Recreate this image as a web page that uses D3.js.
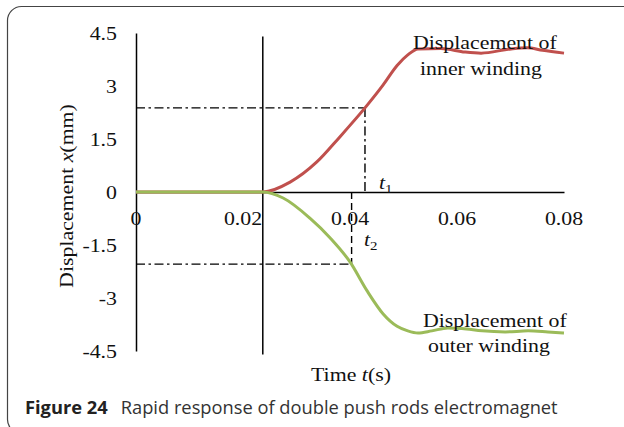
<!DOCTYPE html>
<html>
<head>
<meta charset="utf-8">
<script src="https://cdn.jsdelivr.net/npm/d3@7"></script>
<style>
  html, body { margin: 0; padding: 0; background: #fff; }
  svg { display: block; }
  .serif { font-family: "Liberation Serif", "Times New Roman", serif; fill: #111; }
</style>
</head>
<body>
<svg id="chart" width="624" height="427"></svg>
<script>
// Time axis (s) and displacement axis (mm)
const timeTicks = [0, 0.02, 0.04, 0.06, 0.08];
const timeTickLabels = ["0", "0.02", "0.04", "0.06", "0.08"];
const dispTicks = [4.5, 3, 1.5, 0, -1.5, -3, -4.5];
const dispTickLabels = ["4.5", "3", "1.5", "0", "-1.5", "-3", "-4.5"];

// Inner winding displacement
const innerTime = [0, 0.0237, 0.0288, 0.0338, 0.0381, 0.0428, 0.0462, 0.0488, 0.0508, 0.0527,
                   0.0570, 0.0615, 0.0645, 0.0701, 0.0731, 0.0760, 0.0800];
const innerDisp = [0, 0, 0.28, 0.85, 1.56, 2.38, 3.03, 3.58, 3.88, 4.05,
                   4.06, 3.96, 3.93, 4.05, 4.08, 4.01, 3.93];

// Outer winding displacement
const outerTime = [0, 0.0237, 0.0275, 0.0325, 0.0363, 0.0400, 0.0432, 0.0462, 0.0488, 0.0508,
                   0.0527, 0.0553, 0.0583, 0.0609, 0.0647, 0.0690, 0.0733, 0.0770, 0.0800];
const outerDisp = [0, 0, -0.17, -0.74, -1.30, -1.98, -2.80, -3.45, -3.80, -3.93,
                   -3.99, -3.93, -3.85, -3.86, -3.93, -3.96, -3.93, -3.96, -3.99];

// Start of motion and the two response-time markers
const startTime = 0.0237, startTop = 4.4, startBottom = -4.6;
const t1Time = 0.0428, t1Disp = 2.38;
const t2Time = 0.0403, t2Disp = -2.04;

const svg = d3.select("#chart");

// figure frame
svg.append("rect")
  .attr("x", 7.5).attr("y", 6.5).attr("width", 650).attr("height", 427)
  .attr("rx", 14).attr("fill", "none").attr("stroke", "#444").attr("stroke-width", 1.2);

const x = d3.scaleLinear().domain([0, 0.08]).range([136, 564]);
const y = d3.scaleLinear().domain([-4.5, 4.5]).range([351, 33]);

const SX = 1.15; // glyph widening of the serif labels

function label(px, py, str, anchor, size, rot) {
  const g = svg.append("g").attr("transform", `translate(${px},${py})` + (rot ? ` rotate(${rot})` : ""));
  return g.append("text").attr("class", "serif")
    .attr("transform", `scale(${SX},1)`)
    .attr("text-anchor", anchor || "start")
    .attr("font-size", size || 19)
    .text(str);
}

// axes: domain lines only
svg.append("g").attr("transform", `translate(0,${y(0)})`)
  .call(d3.axisBottom(x).tickValues([]).tickSize(0))
  .select(".domain").attr("stroke", "#000").attr("stroke-width", 1.5);
svg.append("g").attr("transform", `translate(${x(0)},0)`)
  .call(d3.axisLeft(y).tickValues([]).tickSize(0))
  .select(".domain").attr("stroke", "#000").attr("stroke-width", 1.5);

// tick labels
timeTicks.forEach((t, i) => label(x(t), y(0) + 33, timeTickLabels[i], "middle"));
dispTicks.forEach((v, i) => label(117, y(v) + 7, dispTickLabels[i], "end"));

// start-of-motion line
svg.append("line")
  .attr("x1", x(startTime)).attr("x2", x(startTime))
  .attr("y1", y(startTop)).attr("y2", y(startBottom))
  .attr("stroke", "#000").attr("stroke-width", 1.5);

// response-time guides
const dash = "9,3.5,2.5,3.5";
function guide(x1, y1, x2, y2, pattern) {
  svg.append("line").attr("x1", x1).attr("y1", y1).attr("x2", x2).attr("y2", y2)
    .attr("stroke", "#000").attr("stroke-width", 1.4).attr("stroke-dasharray", pattern);
}
guide(x(0), y(t1Disp), x(t1Time), y(t1Disp), dash);
guide(x(t1Time), y(t1Disp), x(t1Time), y(0), dash);
guide(x(0), y(t2Disp), x(t2Time), y(t2Disp), dash);
guide(x(t2Time), y(0), x(t2Time), y(t2Disp), "7,4");

// curves
const line = d3.line().x(d => x(d[0])).y(d => y(d[1])).curve(d3.curveMonotoneX);
svg.append("path").datum(d3.zip(innerTime, innerDisp))
  .attr("d", line).attr("fill", "none").attr("stroke", "#c0504d").attr("stroke-width", 3);
svg.append("path").datum(d3.zip(outerTime, outerDisp))
  .attr("d", line).attr("fill", "none").attr("stroke", "#9bbb59").attr("stroke-width", 3);

// curve labels
label(413, 49, "Displacement of");
label(420, 75, "inner winding");
label(423, 327, "Displacement of");
label(428, 352, "outer winding");

// t1 / t2
function tLabel(px, py, sub) {
  const t = label(px, py, "");
  t.append("tspan").attr("font-style", "italic").text("t");
  t.append("tspan").attr("font-size", 13).attr("dy", 4).text(sub);
}
tLabel(379, 189, "1");
tLabel(364, 246, "2");

// axis titles
const yt = label(73, 196, "", "middle", 19, -90);
yt.append("tspan").text("Displacement ");
yt.append("tspan").attr("font-style", "italic").text("x");
yt.append("tspan").text("(mm)");
const xt = label(351, 381, "", "middle");
xt.append("tspan").text("Time ");
xt.append("tspan").attr("font-style", "italic").text("t");
xt.append("tspan").text("(s)");

// caption
const cap = svg.append("text").attr("x", 25).attr("y", 414)
  .attr("font-family", "'Open Sans', 'Noto Sans', sans-serif").attr("font-size", 18.3).attr("fill", "#222");
cap.append("tspan").attr("font-weight", "bold").text("Figure 24");
cap.append("tspan").attr("dx", 13).attr("fill", "#333").text("Rapid response of double push rods electromagnet");
</script>
</body>
</html>
